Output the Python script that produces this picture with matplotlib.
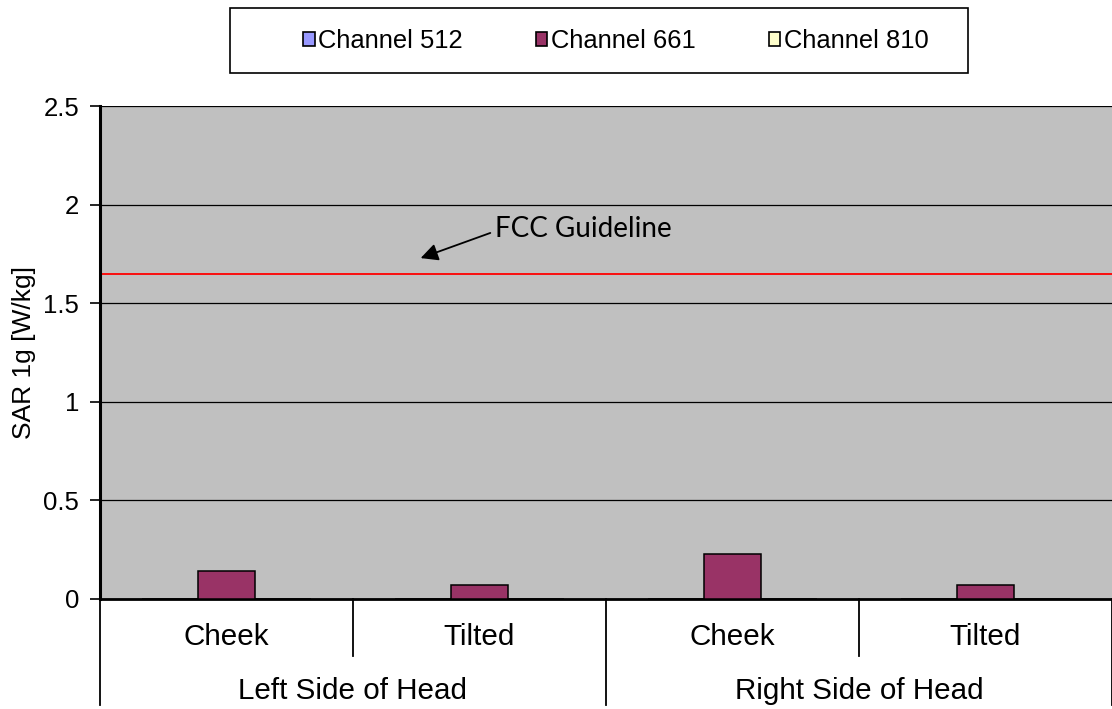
import numpy as np
import matplotlib.pyplot as plt
from matplotlib.patches import Patch, Rectangle

plt.rcParams['font.family'] = ['Liberation Sans', 'DejaVu Sans']

positions = ['Cheek', 'Tilted', 'Cheek', 'Tilted']
sides = ['Left Side of Head', 'Right Side of Head']
channels = ['Channel 512', 'Channel 661', 'Channel 810']
ch512 = [0.0, 0.0, 0.0, 0.0]
ch661 = [0.14, 0.07, 0.23, 0.07]
ch810 = [0.0, 0.0, 0.0, 0.0]
fcc_line = 1.65
yticks = [0, 0.5, 1, 1.5, 2, 2.5]

colors = ['#9999FF', '#993366', '#FFFFCC']

fig = plt.figure(figsize=(11.12, 7.09), dpi=100)
W, H = 1112., 709.
x0, x1, ytop, ybot = 100, 1112, 106, 599
ax = fig.add_axes([x0/W, 1-ybot/H, (x1-x0)/W, (ybot-ytop)/H])
ax.set_facecolor('#C0C0C0')

x = np.arange(len(positions))
w = 0.222
for i, vals in enumerate([ch512, ch661, ch810]):
    ax.bar(x + (i-1)*w, vals, w, color=colors[i], edgecolor='black', linewidth=1.1, zorder=3)

ax.axhline(fcc_line, color='red', lw=1.3, zorder=2)
ax.set_ylim(0, 2.5)
ax.set_xlim(-0.5, 3.5)
ax.set_yticks(yticks)
ax.set_yticklabels(['0', '0.5', '1', '1.5', '2', '2.5'])
ax.yaxis.grid(True, color='black', lw=0.9, zorder=1)
ax.tick_params(axis='y', labelsize=18.5, length=7, width=1.2, pad=8)
ax.set_xticks([])
for s in ['top', 'right']:
    ax.spines[s].set_visible(False)
ax.spines['left'].set_linewidth(2.2)
ax.spines['bottom'].set_linewidth(2.0)
ax.set_ylabel('SAR 1g [W/kg]', fontsize=19)
ax.yaxis.set_label_coords(-0.063, 0.5)

# category labels underneath
trans = ax.get_xaxis_transform()
for i, p in enumerate(positions):
    ax.text(i, -0.077, p, transform=trans, ha='center', va='center', fontsize=21.3)
for j, s in enumerate(sides):
    ax.text(2*j + 0.5, -0.187, s, transform=trans, ha='center', va='center', fontsize=21.3)
for xs in [0.5, 2.5]:
    ax.plot([xs, xs], [0, -0.115], color='black', lw=1.3, transform=trans, clip_on=False)
for xs in [-0.5, 1.5, 3.5]:
    ax.plot([xs, xs], [0, -0.215], color='black', lw=1.3, transform=trans, clip_on=False)

# FCC annotation
ax.annotate('', xy=(0.757, 1.724), xytext=(1.053, 1.861),
            arrowprops=dict(arrowstyle='-|>', color='black', lw=1.3, mutation_scale=26))
ax.text(1.061, 1.875, 'FCC Guideline', fontsize=20, family=['Lato', 'DejaVu Sans'],
        ha='left', va='center')

# legend
fig.patches.append(Rectangle((230/W, 1-73/H), 738/W, 65/H, transform=fig.transFigure,
                             facecolor='white', edgecolor='black', lw=1.2))
handles = [Patch(facecolor=c, edgecolor='black', linewidth=1.2) for c in colors]
leg = fig.legend(handles, channels, loc='center', bbox_to_anchor=(616/W, 1-41/H),
                 ncol=3, frameon=False, fontsize=18.4, handlelength=0.45, handleheight=0.5,
                 handletextpad=0.15, columnspacing=2.85)

fig.savefig('out.png', dpi=100)
